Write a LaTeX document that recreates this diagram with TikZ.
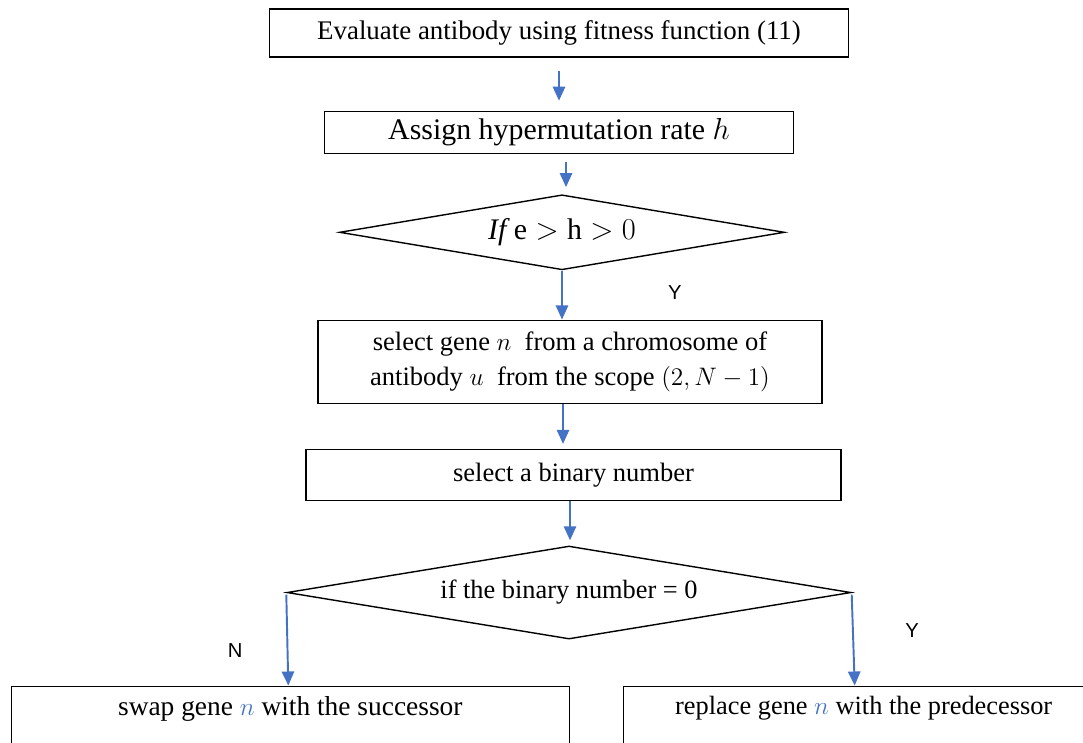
\documentclass[tikz,border=0pt]{standalone}
\usepackage{amsmath}
\usepackage{xcolor}
\usepackage{fontspec}
\setmainfont{Liberation Serif}
\setsansfont{Liberation Sans}
\usepackage{tikz}
\usetikzlibrary{shapes.geometric,positioning,arrows.meta}
\definecolor{flowblue}{HTML}{4472C4}
\tikzstyle{exec}=   [draw,
rectangle,
line width=0.8pt,
inner sep=0pt,
]
\tikzstyle{judge}= [draw,
diamond,
aspect=6,
line width=0.8pt,
inner sep=0,]
\tikzstyle{flow}=  [draw=flowblue,
line width=1.1pt,
-{Triangle[width=7pt,length=8pt]},
]
\tikzstyle{yn}=    [font=\sffamily\fontsize{11.5}{13}\selectfont]

\begin{document}
\begin{tikzpicture}
        \useasboundingbox (0,0) rectangle (21.66,-14.84);
        \clip (0,0) rectangle (21.66,-14.84);
        \node[exec, minimum width=11.58cm, minimum height=0.96cm, font=\fontsize{15.3}{18}\selectfont] (eval) at (11.18,-0.66) {Evaluate antibody using fitness function (11)};
        \node[exec, below=1.06cm of eval, minimum width=9.38cm, minimum height=0.84cm, font=\fontsize{17}{20}\selectfont] (assign) {Assign hypermutation rate $h$};
        \node[judge, below=0.8cm of assign, xshift=0.06cm, minimum width=8.9cm, minimum height=1.5cm, font=\fontsize{17}{20}\selectfont] (judge1) {$\mathit{If}\ \mathrm{e}>\mathrm{h}>0$};
        \node[exec, below=0.98cm of judge1, xshift=0.16cm, minimum width=10.08cm, minimum height=1.66cm, align=center, font=\fontsize{15.1}{20}\selectfont] (select_gene) {select gene $n$\ \ from a chromosome of\\antibody $u$\ \ from the scope $(2,N-1)$};
        \node[exec, below=0.9cm of select_gene, xshift=0.07cm, minimum width=10.7cm, minimum height=1.02cm, font=\fontsize{15.1}{18}\selectfont] (select_bin) {select a binary number};
        \node[judge, below=0.88cm of select_bin, xshift=-0.09cm, minimum width=11.28cm, minimum height=1.86cm, font=\fontsize{15}{18}\selectfont] (judge2) {if the binary number = 0};
        \node[exec, below=1.86cm of judge2.west, xshift=0.08cm, minimum width=11.16cm, inner ysep=0.2cm, text depth=1.4cm, font=\fontsize{15.6}{18}\selectfont] (swap) {swap gene \textcolor{flowblue}{$n$} with the successor};
        \node[exec, below=1.86cm of judge2.east, xshift=0.24cm, minimum width=9.6cm, inner ysep=0.2cm, text depth=1.4cm, font=\fontsize{15}{18}\selectfont] (replace) {replace gene \textcolor{flowblue}{$n$} with the predecessor};

        \draw[flow, shorten <=0.26cm, shorten >=0.2cm] (eval.south) -- (assign.north);
        \draw[flow, shorten <=0.16cm, shorten >=0.14cm] ([xshift=0.14cm]assign.south) -- ([xshift=0.14cm]assign.south |- judge1.north);
        \draw[flow] (judge1.south) -- (judge1.south |- select_gene.north);
        \draw[flow, shorten >=0.1cm] ([xshift=-0.14cm]select_gene.south) -- ([xshift=-0.14cm]select_gene.south |- select_bin.north);
        \draw[flow, shorten >=0.1cm] ([xshift=-0.07cm]select_bin.south) -- ([xshift=-0.07cm]select_bin.south |- judge2.north);
        \draw[flow] ([yshift=-0.04cm]judge2.west) -- ([xshift=0.04cm]judge2.west |- swap.north);
        \draw[flow] ([yshift=-0.04cm]judge2.east) -- ([xshift=0.06cm]judge2.east |- replace.north);

        \node[yn, below right=0.18cm and 2.0cm of judge1.south] (y1) {Y};
        \node[yn, below left=0.9cm and 0.75cm of judge2.west] (n2) {N};
        \node[yn, below right=0.5cm and 0.95cm of judge2.east] (y2) {Y};
\end{tikzpicture}
\end{document}
